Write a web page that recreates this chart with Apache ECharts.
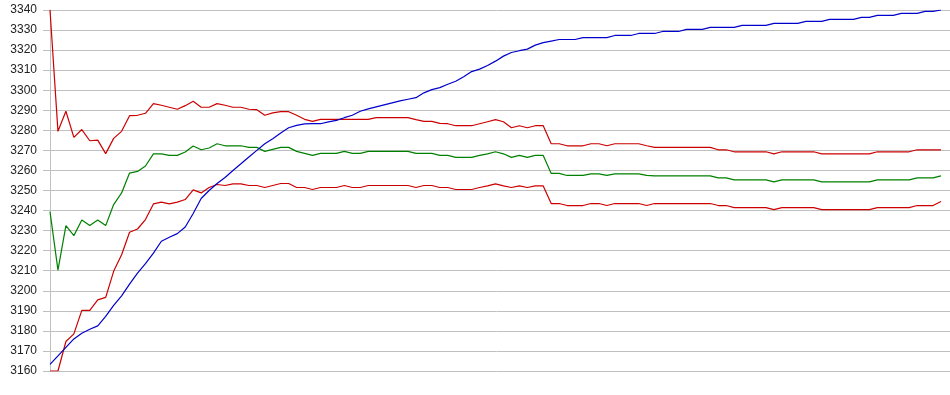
<!DOCTYPE html>
<html>
<head>
<meta charset="utf-8">
<script src="https://cdn.jsdelivr.net/npm/echarts@6/dist/echarts.min.js"></script>
<style>
html,body{margin:0;padding:0;background:#fff;}
#chart{width:950px;height:395px;}
</style>
</head>
<body>
<div id="chart"></div>
<script>
var yTicks = [3160,3170,3180,3190,3200,3210,3220,3230,3240,3250,3260,3270,3280,3290,3300,3310,3320,3330,3340];

var blueSeries = [
3163.3,3167.5,3171.8,3176,3178.8,3180.8,3182.5,3187.2,3192.7,3197.5,
3203.3,3208.8,3213.5,3218.8,3224.7,3226.7,3228.5,3231.8,3238.5,3246,
3250,3253.5,3256.5,3260,3263.3,3266.7,3270,3273.3,3275.8,3278.7,
3281.3,3282.5,3283.2,3283.3,3283.3,3284.2,3285,3286.3,3287.5,3289.5,
3290.7,3291.7,3292.7,3293.7,3294.7,3295.5,3296.3,3298.7,3300.3,3301.3,
3303,3304.5,3306.7,3309.3,3310.5,3312.3,3314.5,3317,3318.8,3319.7,
3320.5,3322.5,3323.7,3324.5,3325.3,3325.3,3325.3,3326.2,3326.2,3326.2,
3326.2,3327.3,3327.3,3327.3,3328.3,3328.3,3328.3,3329.3,3329.3,3329.3,
3330.3,3330.3,3330.3,3331.3,3331.3,3331.3,3331.3,3332.3,3332.3,3332.3,
3332.3,3333.3,3333.3,3333.3,3333.3,3334.3,3334.3,3334.3,3335.3,3335.3,
3335.3,3335.3,3336.3,3336.3,3337.3,3337.3,3337.3,3338.3,3338.3,3338.3,
3339.3,3339.3,3340
];

var redUpperSeries = [
3340,3279.5,3289.5,3276.5,3280.4,3274.8,3275.1,3268.4,3276,3279.5,
3287.3,3287.5,3288.5,3293.3,3292.5,3291.5,3290.5,3292.3,3294.5,3291.5,
3291.5,3293.3,3292.5,3291.5,3291.5,3290.5,3290.3,3287.5,3288.7,3289.3,
3289.3,3287.5,3285.5,3284.5,3285.5,3285.5,3285.5,3285.5,3285.5,3285.5,
3285.5,3286.3,3286.3,3286.3,3286.3,3286.3,3285.3,3284.5,3284.5,3283.5,
3283.3,3282.3,3282.3,3282.3,3283.3,3284.3,3285.3,3284.3,3281.3,3282.3,
3281.3,3282.3,3282.3,3273.3,3273.3,3272.3,3272.3,3272.3,3273.3,3273.3,
3272.3,3273.3,3273.3,3273.3,3273.3,3272.3,3271.5,3271.5,3271.5,3271.5,
3271.5,3271.5,3271.5,3271.5,3270.3,3270.3,3269.3,3269.3,3269.3,3269.3,
3269.3,3268.3,3269.3,3269.3,3269.3,3269.3,3269.3,3268.3,3268.3,3268.3,
3268.3,3268.3,3268.3,3268.3,3269.3,3269.3,3269.3,3269.3,3269.3,3270.3,
3270.3,3270.3,3270.3
];

var greenSeries = [
3239.5,3210.3,3232.5,3227.5,3235.3,3232.5,3235.3,3232.5,3243,3248.8,
3258.7,3259.5,3262.2,3268.3,3268.3,3267.5,3267.5,3269.2,3272.2,3270.3,
3271.2,3273.3,3272.3,3272.3,3272.3,3271.5,3271.5,3269.5,3270.5,3271.5,
3271.5,3269.5,3268.5,3267.5,3268.5,3268.5,3268.5,3269.5,3268.5,3268.5,
3269.5,3269.5,3269.5,3269.5,3269.5,3269.5,3268.5,3268.5,3268.5,3267.5,
3267.5,3266.5,3266.5,3266.5,3267.5,3268.3,3269.3,3268.3,3266.5,3267.5,
3266.5,3267.5,3267.5,3258.5,3258.5,3257.5,3257.5,3257.5,3258.3,3258.3,
3257.5,3258.3,3258.3,3258.3,3258.3,3257.5,3257.3,3257.3,3257.3,3257.3,
3257.3,3257.3,3257.3,3257.3,3256.3,3256.3,3255.3,3255.3,3255.3,3255.3,
3255.3,3254.3,3255.3,3255.3,3255.3,3255.3,3255.3,3254.3,3254.3,3254.3,
3254.3,3254.3,3254.3,3254.3,3255.3,3255.3,3255.3,3255.3,3255.3,3256.3,
3256.3,3256.3,3257.3
];

var redLowerSeries = [
3160,3160,3174.7,3178.5,3190.2,3190.2,3195.5,3196.7,3209.7,3218,
3229.2,3230.8,3235.5,3243.3,3244.2,3243.3,3244.2,3245.5,3250.3,3248.8,
3251.5,3253,3252.5,3253.3,3253.3,3252.5,3252.5,3251.5,3252.5,3253.5,
3253.5,3251.5,3251.5,3250.5,3251.5,3251.5,3251.5,3252.5,3251.5,3251.5,
3252.5,3252.5,3252.5,3252.5,3252.5,3252.5,3251.5,3252.5,3252.5,3251.5,
3251.5,3250.5,3250.5,3250.5,3251.5,3252.3,3253.3,3252.3,3251.5,3252.3,
3251.5,3252.3,3252.3,3243.5,3243.5,3242.5,3242.5,3242.5,3243.5,3243.5,
3242.5,3243.5,3243.5,3243.5,3243.5,3242.5,3243.5,3243.5,3243.5,3243.5,
3243.5,3243.5,3243.5,3243.5,3242.5,3242.5,3241.5,3241.5,3241.5,3241.5,
3241.5,3240.5,3241.5,3241.5,3241.5,3241.5,3241.5,3240.5,3240.5,3240.5,
3240.5,3240.5,3240.5,3240.5,3241.5,3241.5,3241.5,3241.5,3241.5,3242.5,
3242.5,3242.5,3244.5
];

function pairs(arr){ return arr.map(function(v,i){ return [i, v]; }); }

var chart = echarts.init(document.getElementById('chart'), null, {renderer:'canvas'});
function lineSeries(name, data, color){
  return {
    name: name, type: 'line', data: pairs(data),
    showSymbol: false, symbol: 'none', smooth: false,
    lineStyle: {color: color, width: 1.2},
    itemStyle: {color: color},
    emphasis: {disabled: true},
    animation: false
  };
}
chart.setOption({
  animation: false,
  backgroundColor: '#ffffff',
  grid: {left: 43, right: 0, top: 10, bottom: 24, containLabel: false},
  xAxis: {
    type: 'value', min: -0.88, max: 113.13,
    axisLine: {show: false}, axisTick: {show: false},
    axisLabel: {show: false}, splitLine: {show: false}
  },
  yAxis: {
    type: 'value', min: yTicks[0], max: yTicks[yTicks.length-1], interval: 10,
    axisLine: {show: true, lineStyle: {color: '#c0c0c0', width: 1}},
    axisTick: {show: false},
    axisLabel: {
      color: '#222', fontSize: 12, fontFamily: 'Liberation Sans, Arial, sans-serif',
      margin: 6,
      formatter: function(v){ return String(v); }
    },
    splitLine: {show: true, lineStyle: {color: '#c0c0c0', width: 1}}
  },
  series: [
    lineSeries('upper', redUpperSeries, '#cc0000'),
    lineSeries('mean', greenSeries, '#008000'),
    lineSeries('lower', redLowerSeries, '#cc0000'),
    lineSeries('blue', blueSeries, '#0000cc')
  ]
});
</script>
</body>
</html>
